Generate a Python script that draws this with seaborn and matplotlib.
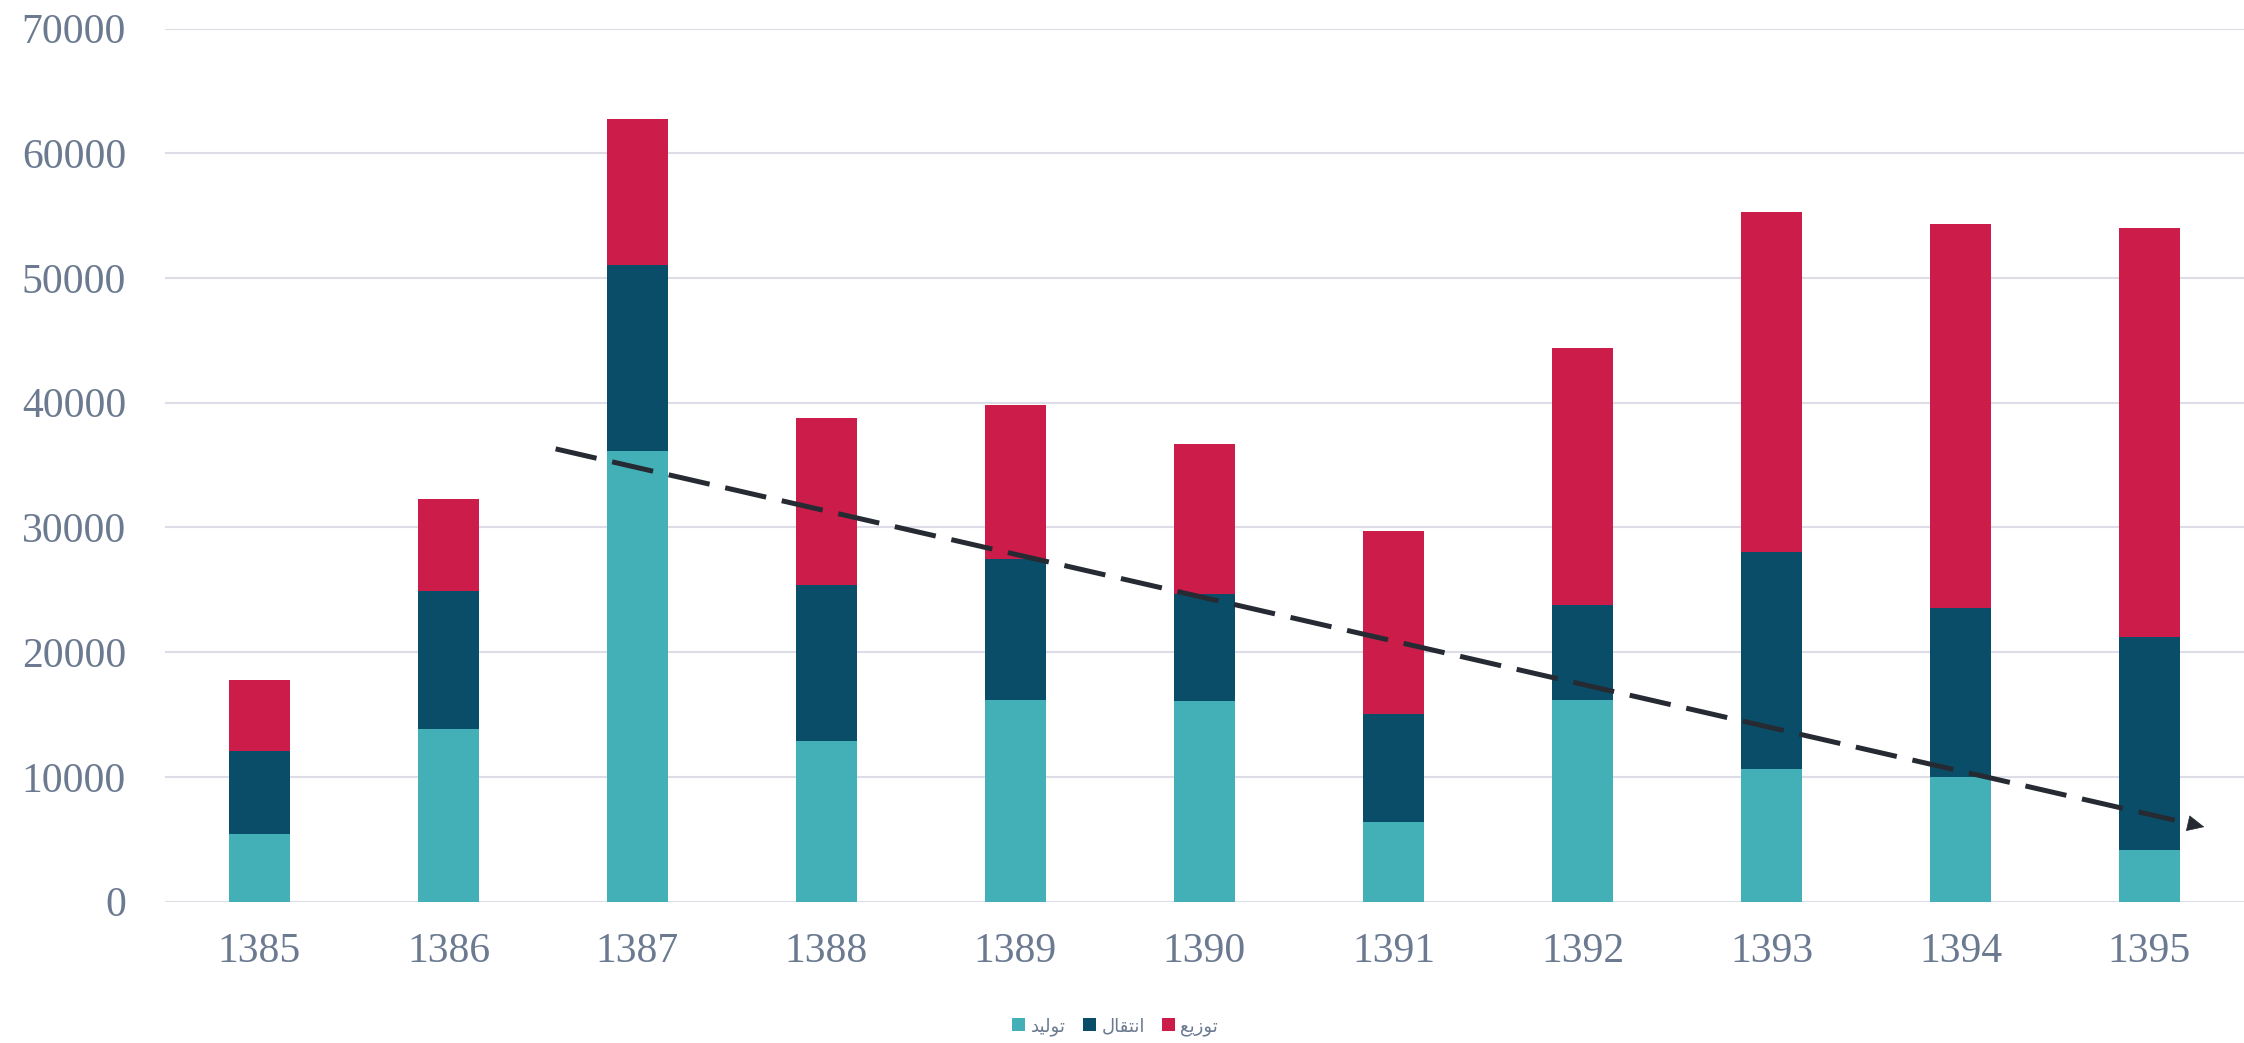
import matplotlib
matplotlib.use("Agg")
import matplotlib.pyplot as plt
import numpy as np
import pandas as pd
import seaborn as sns
from matplotlib.patches import Patch

# values
years = ["1385", "1386", "1387", "1388", "1389", "1390", "1391", "1392", "1393", "1394", "1395"]
tolid = [5400, 13800, 36100, 12900, 16200, 16100, 6400, 16200, 10600, 10000, 4100]
enteghal = [6650, 11100, 14950, 12450, 11250, 8600, 8600, 7550, 17400, 13550, 17100]
tozi = [5750, 7350, 11700, 13450, 12400, 11950, 14700, 20650, 27300, 30750, 32800]
series_names = ["تولید", "انتقال", "توزیع"]
series_colors = ["#43AFB7", "#0A4D68", "#CC1C4A"]

# trend arrow drawn over the bars (category index, value), tail -> tip
trend_x = [1.567, 10.29]
trend_y = [36300, 5980]

yticks = [0, 10000, 20000, 30000, 40000, 50000, 60000, 70000]
TICK_COLOR = "#6B7A90"
GRID_COLOR = "#DCDDE6"
ARROW_COLOR = "#262A33"

# presentation forms (isolated, final, initial, medial) for the letters used
FORMS = {
    "ت": ("\uFE95", "\uFE96", "\uFE97", "\uFE98"),
    "و": ("\uFEED", "\uFEEE", None, None),
    "ل": ("\uFEDD", "\uFEDE", "\uFEDF", "\uFEE0"),
    "ی": ("\uFBFC", "\uFBFD", "\uFBFE", "\uFBFF"),
    "د": ("\uFEA9", "\uFEAA", None, None),
    "ا": ("\uFE8D", "\uFE8E", None, None),
    "ن": ("\uFEE5", "\uFEE6", "\uFEE7", "\uFEE8"),
    "ق": ("\uFED5", "\uFED6", "\uFED7", "\uFED8"),
    "ز": ("\uFEAF", "\uFEB0", None, None),
    "ع": ("\uFEC9", "\uFECA", "\uFECB", "\uFECC"),
}


def shape_fa(word: str) -> str:
    # matplotlib has no Arabic shaping, so pick joined forms and reverse
    out = []
    for i, ch in enumerate(word):
        forms = FORMS[ch]
        joins_left = forms[2] is not None
        prev_joins = i > 0 and FORMS[word[i - 1]][2] is not None
        next_exists = i < len(word) - 1
        if prev_joins and joins_left and next_exists:
            out.append(forms[3])
        elif prev_joins:
            out.append(forms[1])
        elif joins_left and next_exists:
            out.append(forms[2])
        else:
            out.append(forms[0])
    return "".join(reversed(out))


def main() -> None:
    sns.set_theme(style="white")
    plt.rcParams["font.family"] = ["Liberation Serif", "DejaVu Serif"]

    df = pd.DataFrame({"year": years, "tolid": tolid, "enteghal": enteghal, "tozi": tozi})
    df["c1"] = df["tolid"]
    df["c2"] = df["c1"] + df["enteghal"]
    df["c3"] = df["c2"] + df["tozi"]

    fig = plt.figure(figsize=(22.44, 10.43), dpi=100)
    ax = fig.add_axes([0.0735, 0.1356, 0.9265, 0.837])

    # stacked bars: draw cumulative totals from the top layer down
    for col, color in zip(["c3", "c2", "c1"], series_colors[::-1]):
        sns.barplot(data=df, x="year", y=col, color=color, width=0.32,
                    saturation=1, ax=ax, linewidth=0, errorbar=None)

    ax.set_ylim(0, 70000)
    ax.set_xlim(-0.5, len(years) - 0.5)
    ax.set_yticks(yticks)
    ax.set_yticklabels([str(v) for v in yticks])
    ax.yaxis.grid(True, color=GRID_COLOR, linewidth=1.5)
    ax.set_axisbelow(True)
    sns.despine(ax=ax, left=True, bottom=True)
    ax.set_xlabel("")
    ax.set_ylabel("")
    ax.tick_params(axis="y", length=0, pad=28, labelsize=30, labelcolor=TICK_COLOR)
    ax.tick_params(axis="x", length=0, pad=22, labelsize=30, labelcolor=TICK_COLOR)

    # dashed trend line, stopping short of a small separate arrow head
    tx = np.array(trend_x)
    ty = np.array(trend_y)
    dash_end = 0.982
    head_start = 0.9905
    ax.plot([tx[0], tx[0] + (tx[1] - tx[0]) * dash_end],
            [ty[0], ty[0] + (ty[1] - ty[0]) * dash_end],
            color=ARROW_COLOR, lw=3.6, linestyle=(0, (8.4, 3.2)),
            dash_capstyle="butt", zorder=5)
    ax.annotate("", xy=(tx[1], ty[1]),
                xytext=(tx[0] + (tx[1] - tx[0]) * head_start,
                        ty[0] + (ty[1] - ty[0]) * head_start),
                arrowprops=dict(arrowstyle="-|>,head_length=0.95,head_width=0.45",
                                color=ARROW_COLOR, lw=0.5, mutation_scale=12,
                                shrinkA=0, shrinkB=0),
                zorder=6)

    handles = [Patch(facecolor=c, edgecolor="none") for c in series_colors]
    labels = [shape_fa(n) for n in series_names]
    fig.legend(handles, labels, loc="center", bbox_to_anchor=(0.497, 0.016),
               ncol=3, frameon=False, handlelength=0.72, handleheight=0.72,
               handletextpad=0.3, columnspacing=0.95,
               prop={"family": "DejaVu Sans", "size": 13},
               labelcolor=TICK_COLOR)

    fig.savefig("out.png", dpi=100)
    plt.close(fig)


if __name__ == "__main__":
    main()
